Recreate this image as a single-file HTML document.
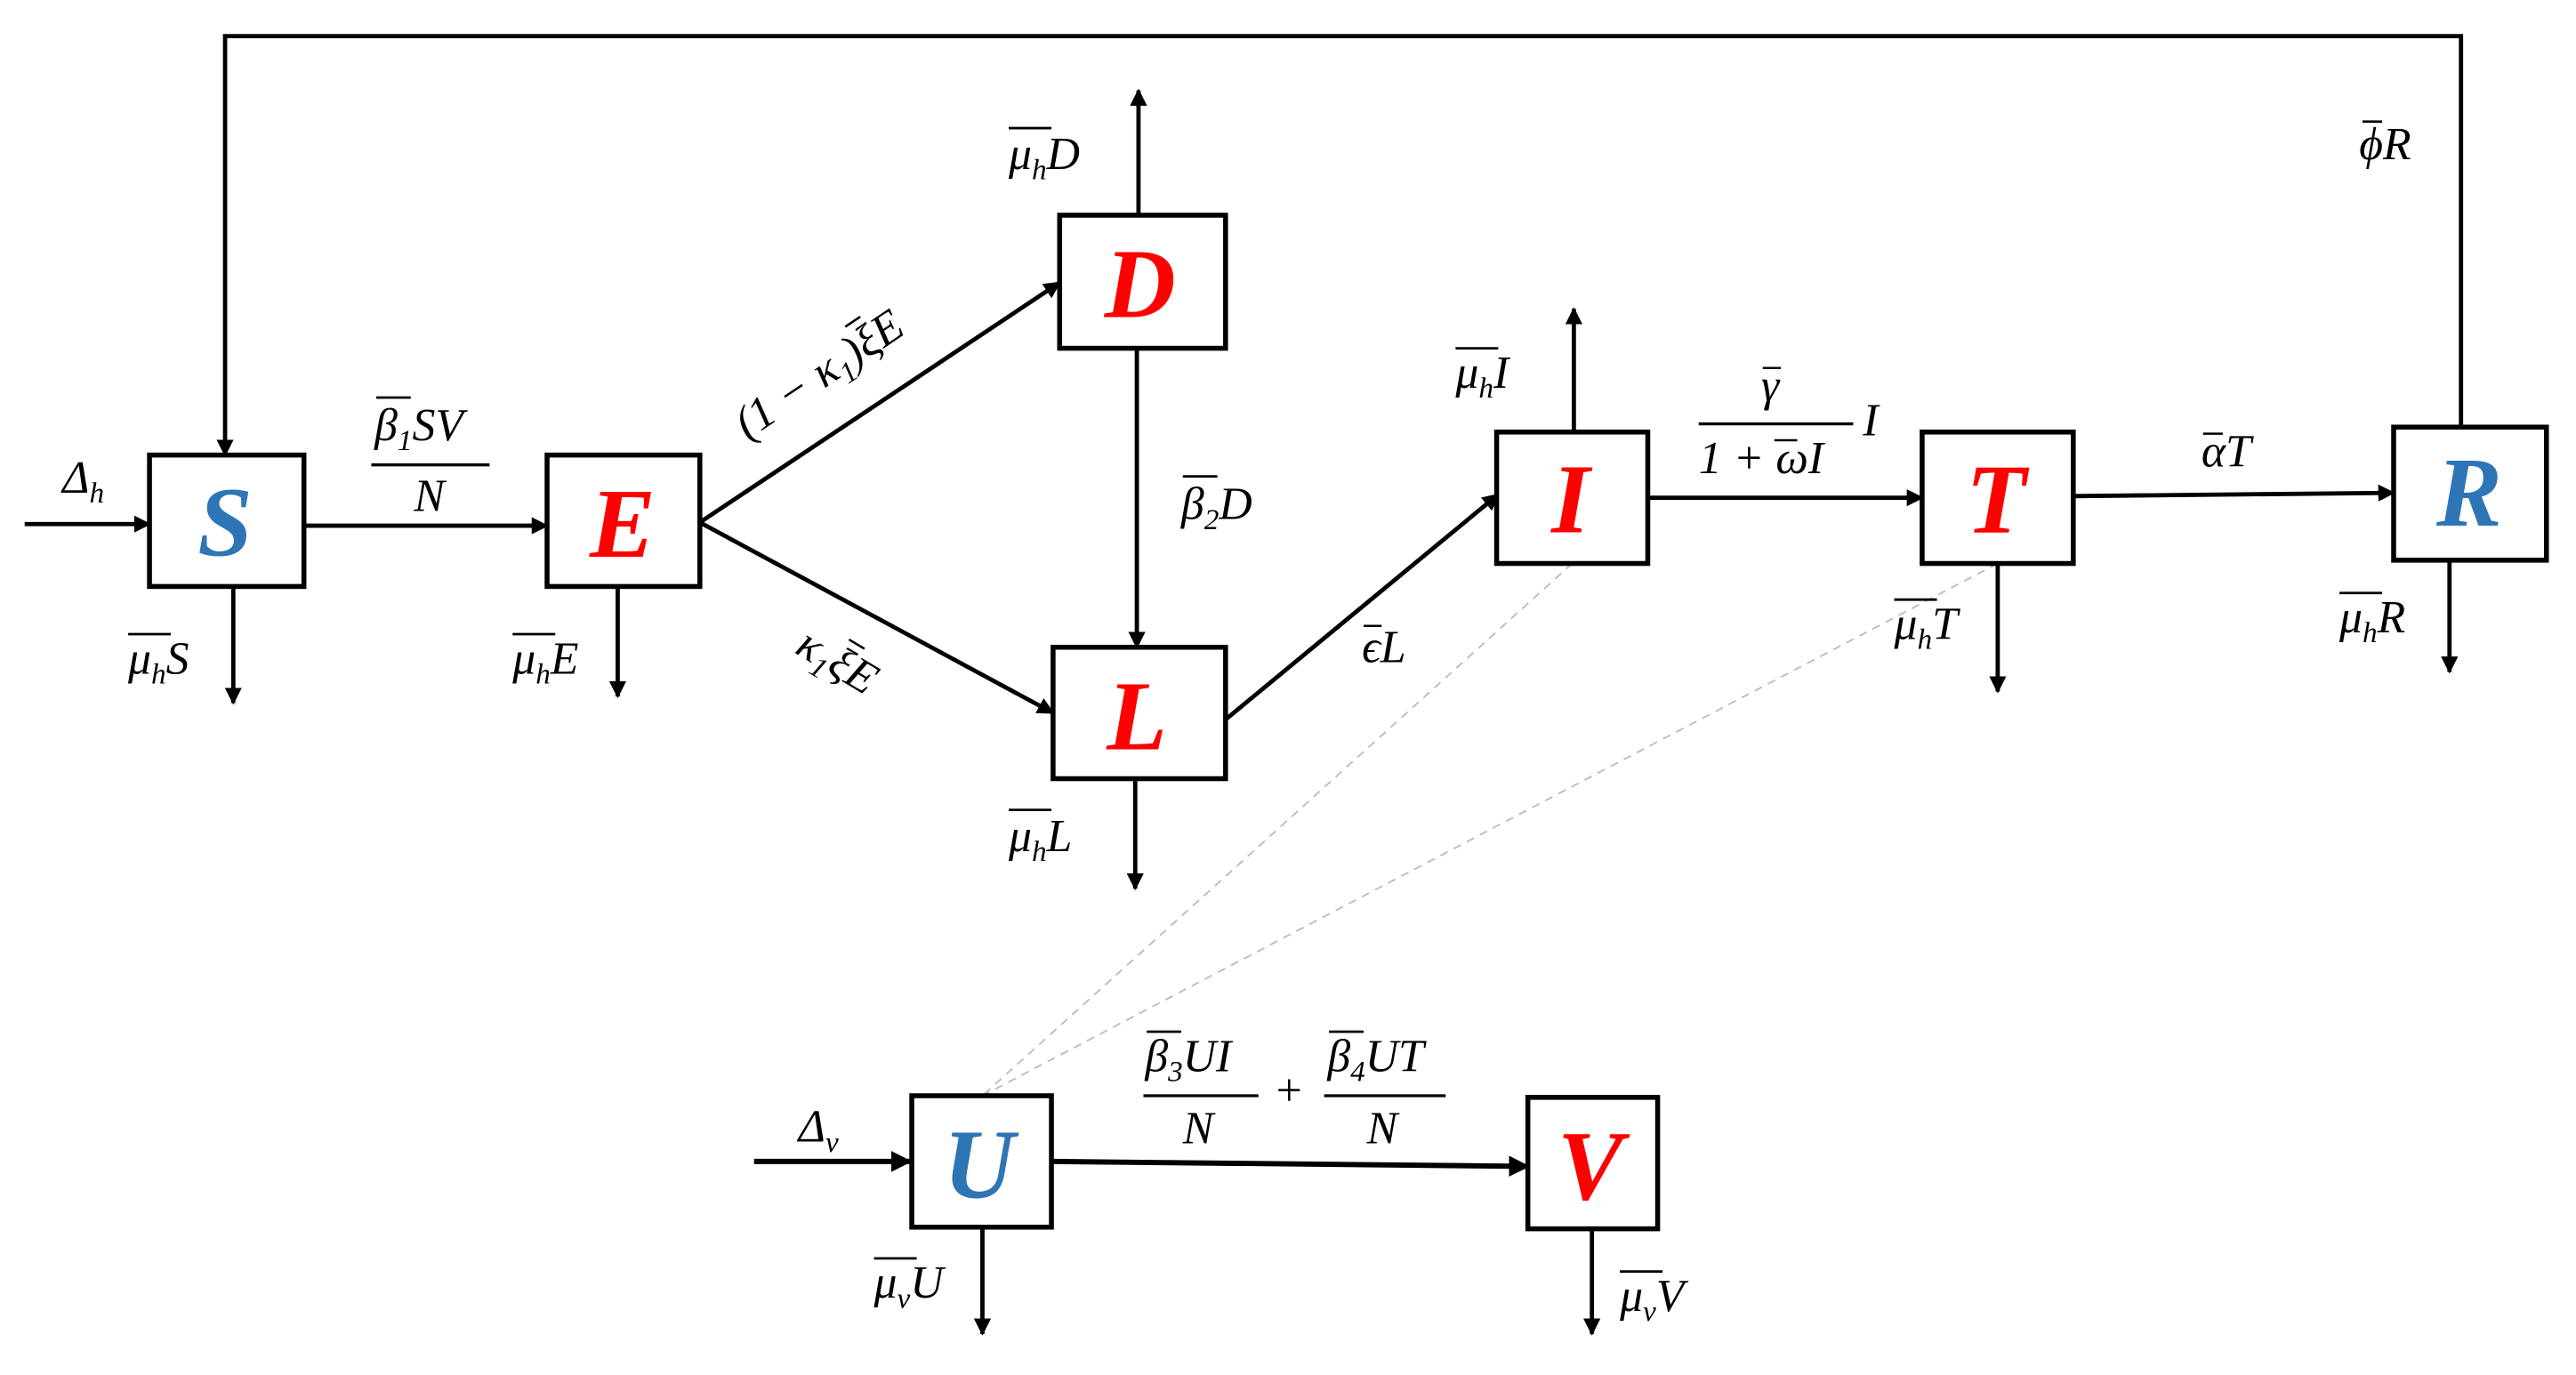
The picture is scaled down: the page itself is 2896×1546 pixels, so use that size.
<!DOCTYPE html>
<html><head><meta charset="utf-8"><style>
html,body{margin:0;padding:0;background:#fff;}
svg{display:block;}
text{font-family:"Liberation Serif","DejaVu Serif",serif;font-style:italic;fill:#000;}
.n{font-weight:bold;font-size:60px;}
.b{fill:#2E75B6;}
.r{fill:#FF0000;}
.l{font-size:28px;}
.s{font-size:18px;}
</style></head><body>
<svg width="2896" height="1546" viewBox="0 0 1568 837" preserveAspectRatio="none" xmlns="http://www.w3.org/2000/svg">
<defs>
<marker id="a" viewBox="0 0 10 10" refX="9" refY="5" markerWidth="4" markerHeight="4" orient="auto" markerUnits="strokeWidth"><path d="M0,0 L10,5 L0,10 z" fill="#000"/></marker>
</defs>
<g stroke="#000" stroke-width="2.6" fill="none">
<polyline points="1498,260 1498,22 137,22 137,277" marker-end="url(#a)"/>
<line x1="15" y1="319" x2="91" y2="319" marker-end="url(#a)"/>
<line x1="185" y1="320" x2="333" y2="320" marker-end="url(#a)"/>
<line x1="426" y1="318" x2="645" y2="172" marker-end="url(#a)"/>
<line x1="426" y1="318" x2="641" y2="434" marker-end="url(#a)"/>
<line x1="692" y1="212" x2="692" y2="394" marker-end="url(#a)"/>
<line x1="746" y1="438" x2="912" y2="301" marker-end="url(#a)"/>
<line x1="1003" y1="303" x2="1170" y2="303" marker-end="url(#a)"/>
<line x1="1262" y1="302" x2="1457" y2="300" marker-end="url(#a)"/>
<line x1="142" y1="357" x2="142" y2="428" marker-end="url(#a)"/>
<line x1="376" y1="357" x2="376" y2="424" marker-end="url(#a)"/>
<line x1="693" y1="131" x2="693" y2="55" marker-end="url(#a)"/>
<line x1="691" y1="474" x2="691" y2="541" marker-end="url(#a)"/>
<line x1="958" y1="263" x2="958" y2="188" marker-end="url(#a)"/>
<line x1="1216" y1="343" x2="1216" y2="421" marker-end="url(#a)"/>
<line x1="1491" y1="341" x2="1491" y2="409" marker-end="url(#a)"/>
<line x1="459" y1="707" x2="554" y2="707" stroke-width="3.2" marker-end="url(#a)"/>
<line x1="640" y1="707" x2="930" y2="710" stroke-width="3.2" marker-end="url(#a)"/>
<line x1="598" y1="747" x2="598" y2="812" marker-end="url(#a)"/>
<line x1="969" y1="748" x2="969" y2="812" marker-end="url(#a)"/>
</g>
<g stroke="#bbb" stroke-width="1" stroke-dasharray="5,4">
<line x1="957" y1="343" x2="598" y2="667"/>
<line x1="1216" y1="343" x2="598" y2="667"/>
</g>
<g stroke="#000" stroke-width="3" fill="#fff">
<rect x="91" y="277" width="94" height="80"/>
<rect x="333" y="277" width="93" height="80"/>
<rect x="645" y="131" width="101" height="81"/>
<rect x="641" y="394" width="105" height="80"/>
<rect x="911" y="263" width="92" height="80"/>
<rect x="1170" y="263" width="92" height="80"/>
<rect x="1457" y="260" width="93" height="81"/>
<rect x="555" y="667" width="85" height="80"/>
<rect x="930" y="668" width="79" height="80"/>
</g>
<g text-anchor="middle">
<text class="n b" x="137" y="338">S</text>
<text class="n r" x="379" y="339">E</text>
<text class="n r" x="694" y="193">D</text>
<text class="n r" x="692" y="456">L</text>
<text class="n r" x="956" y="324">I</text>
<text class="n r" x="1215" y="324">T</text>
<text class="n b" x="1503" y="320">R</text>
<text class="n b" x="596" y="729">U</text>
<text class="n r" x="968" y="730">V</text>
</g>
<g class="l">
<text x="38" y="300">Δ<tspan class="s" dy="6">h</tspan></text>
<text x="486" y="695">Δ<tspan class="s" dy="6">v</tspan></text>
<text x="228" y="268">β<tspan class="s" dy="6">1</tspan><tspan dy="-6">SV</tspan></text>
<line x1="229" y1="242" x2="250" y2="242" stroke="#000" stroke-width="1.5"/>
<line x1="226" y1="283" x2="298" y2="283" stroke="#000" stroke-width="1.8"/>
<text x="252" y="311">N</text>
<text x="78" y="410">μ<tspan class="s" dy="6">h</tspan><tspan dy="-6">S</tspan></text>
<line x1="78" y1="386" x2="104" y2="386" stroke="#000" stroke-width="1.5"/>
<text x="312" y="410">μ<tspan class="s" dy="6">h</tspan><tspan dy="-6">E</tspan></text>
<line x1="312" y1="386" x2="338" y2="386" stroke="#000" stroke-width="1.5"/>
<text x="614" y="103">μ<tspan class="s" dy="6">h</tspan><tspan dy="-6">D</tspan></text>
<line x1="614" y1="78" x2="640" y2="78" stroke="#000" stroke-width="1.5"/>
<text x="614" y="518">μ<tspan class="s" dy="6">h</tspan><tspan dy="-6">L</tspan></text>
<line x1="614" y1="493" x2="640" y2="493" stroke="#000" stroke-width="1.5"/>
<text x="886" y="236">μ<tspan class="s" dy="6">h</tspan><tspan dy="-6">I</tspan></text>
<line x1="886" y1="212" x2="912" y2="212" stroke="#000" stroke-width="1.5"/>
<text x="1153" y="389">μ<tspan class="s" dy="6">h</tspan><tspan dy="-6">T</tspan></text>
<line x1="1153" y1="365" x2="1179" y2="365" stroke="#000" stroke-width="1.5"/>
<text x="1424" y="385">μ<tspan class="s" dy="6">h</tspan><tspan dy="-6">R</tspan></text>
<line x1="1424" y1="361" x2="1450" y2="361" stroke="#000" stroke-width="1.5"/>
<text x="532" y="790">μ<tspan class="s" dy="6">v</tspan><tspan dy="-6">U</tspan></text>
<line x1="532" y1="766" x2="558" y2="766" stroke="#000" stroke-width="1.5"/>
<text x="986" y="798">μ<tspan class="s" dy="6">v</tspan><tspan dy="-6">V</tspan></text>
<line x1="986" y1="774" x2="1012" y2="774" stroke="#000" stroke-width="1.5"/>
<text x="719" y="316">β<tspan class="s" dy="6">2</tspan><tspan dy="-6">D</tspan></text>
<line x1="720" y1="290" x2="741" y2="290" stroke="#000" stroke-width="1.5"/>
<text x="829" y="403">ϵL</text>
<line x1="830" y1="381" x2="841" y2="381" stroke="#000" stroke-width="1.4"/>
<text x="1436" y="97">ϕR</text>
<line x1="1438" y1="74" x2="1450" y2="74" stroke="#000" stroke-width="1.4"/>
<text x="1340" y="284">αT</text>
<line x1="1341" y1="264" x2="1353" y2="264" stroke="#000" stroke-width="1.4"/>
<text x="1072" y="244">γ</text>
<line x1="1073" y1="224" x2="1084" y2="224" stroke="#000" stroke-width="1.4"/>
<line x1="1034" y1="258" x2="1128" y2="258" stroke="#000" stroke-width="1.8"/>
<text x="1034" y="288" font-style="normal">1 + <tspan font-style="italic">ωI</tspan></text>
<line x1="1080" y1="268" x2="1094" y2="268" stroke="#000" stroke-width="1.4"/>
<text x="1134" y="265">I</text>
<g transform="translate(455,268) rotate(-34)">
<text x="0" y="0">(1 − κ<tspan class="s" dy="6">1</tspan><tspan dy="-6">)ξE</tspan></text>
<line x1="88" y1="-24" x2="99" y2="-24" stroke="#000" stroke-width="1.4"/>
</g>
<g transform="translate(483,397) rotate(31)">
<text x="0" y="0">κ<tspan class="s" dy="6">1</tspan><tspan dy="-6">ξE</tspan></text>
<line x1="25" y1="-24" x2="36" y2="-24" stroke="#000" stroke-width="1.4"/>
</g>
<text x="697" y="652">β<tspan class="s" dy="6">3</tspan><tspan dy="-6">UI</tspan></text>
<line x1="698" y1="628" x2="719" y2="628" stroke="#000" stroke-width="1.5"/>
<line x1="696" y1="667" x2="766" y2="667" stroke="#000" stroke-width="1.8"/>
<text x="720" y="696">N</text>
<text x="775" y="673" font-style="normal">+</text>
<text x="808" y="652">β<tspan class="s" dy="6">4</tspan><tspan dy="-6">UT</tspan></text>
<line x1="809" y1="628" x2="830" y2="628" stroke="#000" stroke-width="1.5"/>
<line x1="806" y1="667" x2="880" y2="667" stroke="#000" stroke-width="1.8"/>
<text x="832" y="696">N</text>
</g>
</svg>
</body></html>
